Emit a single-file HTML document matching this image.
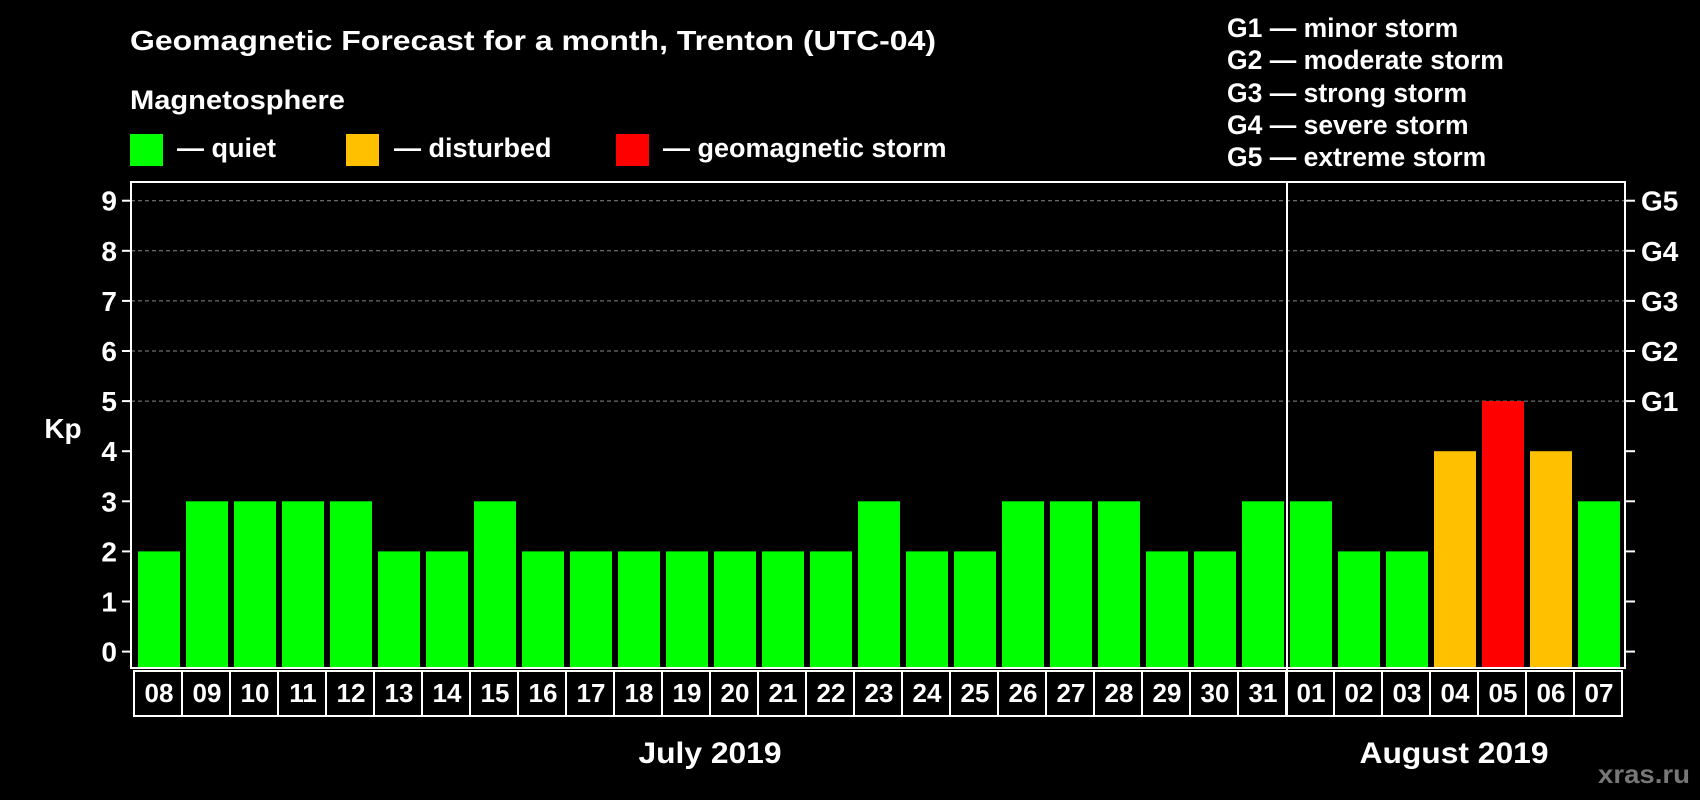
<!DOCTYPE html>
<html><head><meta charset="utf-8"><style>
html,body{margin:0;padding:0;background:#000;}
svg{display:block;font-family:"Liberation Sans",Arial,sans-serif;font-weight:bold;}
</style></head><body>
<svg id="chart" width="1700" height="800" viewBox="0 0 1700 800">
<rect x="0" y="0" width="1700" height="800" fill="#000"/>
<text x="130" y="50" font-size="28" fill="#fff" textLength="806" lengthAdjust="spacingAndGlyphs">Geomagnetic Forecast for a month, Trenton (UTC-04)</text>
<text x="130" y="109" font-size="27" fill="#fff" textLength="215" lengthAdjust="spacingAndGlyphs">Magnetosphere</text>
<g><rect x="130" y="134" width="33" height="32" fill="#00ff00"/><text x="177" y="157" font-size="27" fill="#fff">— quiet</text></g>
<g><rect x="346" y="134" width="33" height="32" fill="#ffc000"/><text x="394" y="157" font-size="27" fill="#fff">— disturbed</text></g>
<g><rect x="616" y="134" width="33" height="32" fill="#ff0000"/><text x="663" y="157" font-size="27" fill="#fff">— geomagnetic storm</text></g>
<g font-size="26.5" fill="#fff">
<text x="1227" y="37">G1 — minor storm</text>
<text x="1227" y="69">G2 — moderate storm</text>
<text x="1227" y="102">G3 — strong storm</text>
<text x="1227" y="134">G4 — severe storm</text>
<text x="1227" y="166">G5 — extreme storm</text>
</g>
<g id="grid"></g>
<g id="bars"></g>
<rect x="131" y="182" width="1494" height="486" fill="none" stroke="#fff" stroke-width="2"/>
<line x1="1287" y1="182" x2="1287" y2="716" stroke="#fff" stroke-width="2"/>
<g id="yaxis"></g>
<g id="xaxis"></g>
<text x="63" y="438" font-size="28" fill="#fff" text-anchor="middle">Kp</text>
<text x="710" y="763" font-size="30" fill="#fff" text-anchor="middle" textLength="143" lengthAdjust="spacingAndGlyphs">July 2019</text>
<text x="1454" y="763" font-size="30" fill="#fff" text-anchor="middle" textLength="189" lengthAdjust="spacingAndGlyphs">August 2019</text>
<text x="1644" y="783" font-size="26" fill="#777" text-anchor="middle" textLength="92" lengthAdjust="spacingAndGlyphs">xras.ru</text>
</svg>
<script>
const days = ["08","09","10","11","12","13","14","15","16","17","18","19","20","21","22","23","24","25","26","27","28","29","30","31","01","02","03","04","05","06","07"];
const kpValues = [2,3,3,3,3,2,2,3,2,2,2,2,2,2,2,3,2,2,3,3,3,2,2,3,3,2,2,4,5,4,3];
const yTicks = [0,1,2,3,4,5,6,7,8,9];
const gLabels = ["G1","G2","G3","G4","G5"];
const gLevels = [5,6,7,8,9];

const NS = "http://www.w3.org/2000/svg";
const plotL = 131, plotR = 1625, plotB = 668;
const y = v => 651.6 - v * 50.1;
const x0 = 138, pitch = 48, barW = 42;
const x = i => x0 + i * pitch;
function mk(tag, attrs, parent){const e=document.createElementNS(NS,tag);for(const k in attrs)e.setAttribute(k,attrs[k]);parent.appendChild(e);return e;}
const color = v => v >= 5 ? "#ff0000" : (v >= 4 ? "#ffc000" : "#00ff00");

const grid = document.getElementById("grid");
const yaxis = document.getElementById("yaxis");
yTicks.forEach(t => {
  if (t >= 5) {
    const gl = mk("line",{x1:plotL,x2:plotR,y1:y(t),y2:y(t),stroke:"#888","stroke-width":1,"stroke-dasharray":"4,3"},grid);
    
    
  }
  const tl = mk("line",{x1:122,x2:plotL,y1:y(t),y2:y(t),stroke:"#fff","stroke-width":2},yaxis);
  
  
  const tr = mk("line",{x1:plotR,x2:1635,y1:y(t),y2:y(t),stroke:"#fff","stroke-width":2},yaxis);
  
  
  const lab = mk("text",{x:117,y:y(t)+10,"font-size":28,fill:"#fff","text-anchor":"end"},yaxis);
  lab.textContent = t;
  
  
});
gLabels.forEach((g,i) => {
  const lab = mk("text",{x:1641,y:y(gLevels[i])+10,"font-size":28,fill:"#fff"},yaxis);
  lab.textContent = g;
  
  
});

const bars = document.getElementById("bars");
const xaxis = document.getElementById("xaxis");
kpValues.forEach((v,i) => {
  const b = mk("rect",{x:x(i),y:y(v),width:barW,height:plotB-y(v),fill:color(v)},bars);
  
  
});
days.forEach((d,i) => {
  const bx = mk("rect",{x:x(i)-4,y:671,width:pitch,height:45,fill:"none",stroke:"#fff","stroke-width":2},xaxis);
  
  
  const t = mk("text",{x:x(i)+barW/2,y:702,"font-size":26,fill:"#fff","text-anchor":"middle"},xaxis);
  t.textContent = d;
  
  
});
</script>
</body></html>
